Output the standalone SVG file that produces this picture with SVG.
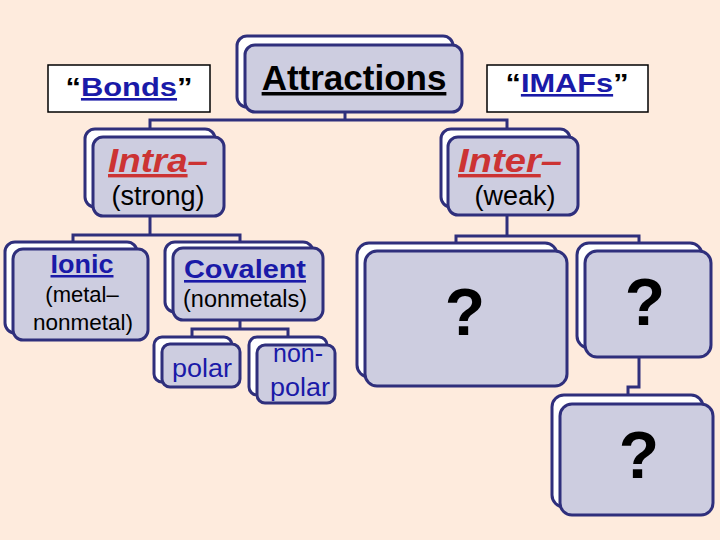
<svg xmlns="http://www.w3.org/2000/svg" width="720" height="540" viewBox="0 0 720 540">
<style>
.bk{fill:#ffffff;stroke:#2f2f7c;stroke-width:3}
.fr{fill:#cdcde0;stroke:#2f2f7c;stroke-width:3}
.lbl{fill:#ffffff;stroke:#000000;stroke-width:1.5}
.cn{fill:none;stroke:#2f2f7c;stroke-width:3}
text{font-family:"Liberation Sans",Arial,sans-serif;text-anchor:middle}
.blue{fill:#1a1aa8}
.red{fill:#cc3333}
.blk{fill:#000000}
</style>
<rect x="0" y="0" width="720" height="540" fill="#feebdd"/>
<g id="connectors">
<polyline class="cn" points="345,112 345,120"/>
<polyline class="cn" points="150,129 150,120 507,120 507,129"/>
<polyline class="cn" points="150,216 150,235"/>
<polyline class="cn" points="73,242 73,235 240,235 240,242"/>
<polyline class="cn" points="240,320 240,329"/>
<polyline class="cn" points="192,337 192,329 288,329 288,337"/>
<polyline class="cn" points="507,215 507,236"/>
<polyline class="cn" points="456,243 456,236 639,236 639,243"/>
<polyline class="cn" points="639,357 639,387 628,387 628,395"/>
</g>
<g id="bonds">
<rect class="lbl" x="48" y="65" width="162" height="47"/>
<text x="129" y="96" font-size="26" font-weight="bold" textLength="127" lengthAdjust="spacingAndGlyphs"><tspan class="blk">“</tspan><tspan class="blue" text-decoration="underline">Bonds</tspan><tspan class="blk">”</tspan></text>
</g>
<g id="imafs">
<rect class="lbl" x="487" y="65" width="161" height="47"/>
<text x="567" y="92" font-size="26" font-weight="bold" textLength="123" lengthAdjust="spacingAndGlyphs"><tspan class="blk">“</tspan><tspan class="blue" text-decoration="underline">IMAFs</tspan><tspan class="blk">”</tspan></text>
</g>
<g id="attractions">
<rect class="bk" x="237" y="36" width="216" height="71" rx="10"/>
<rect class="fr" x="245" y="45" width="217" height="67" rx="10"/>
<text class="blk" x="354" y="90" font-size="35" font-weight="bold" text-decoration="underline">Attractions</text>
</g>
<g id="intra">
<rect class="bk" x="85" y="129" width="130" height="78" rx="10"/>
<rect class="fr" x="93" y="137" width="131" height="79" rx="10"/>
<text x="158" y="172" font-size="34" font-weight="bold" font-style="italic" textLength="100" lengthAdjust="spacingAndGlyphs"><tspan class="red" text-decoration="underline">Intra</tspan><tspan class="red">–</tspan></text>
<text class="blk" x="158" y="205" font-size="27">(strong)</text>
</g>
<g id="inter">
<rect class="bk" x="441" y="129" width="129" height="78" rx="10"/>
<rect class="fr" x="448" y="137" width="130" height="78" rx="10"/>
<text x="510" y="172" font-size="34" font-weight="bold" font-style="italic" textLength="104" lengthAdjust="spacingAndGlyphs"><tspan class="red" text-decoration="underline">Inter</tspan><tspan class="red">–</tspan></text>
<text class="blk" x="515" y="205" font-size="27">(weak)</text>
</g>
<g id="ionic">
<rect class="bk" x="5" y="242" width="132" height="91" rx="10"/>
<rect class="fr" x="13" y="249" width="135" height="91" rx="10"/>
<text class="blue" x="82" y="273" font-size="25" font-weight="bold" text-decoration="underline" textLength="63" lengthAdjust="spacingAndGlyphs">Ionic</text>
<text class="blk" x="82" y="302" font-size="22">(metal–</text>
<text class="blk" x="83" y="330" font-size="22" textLength="100" lengthAdjust="spacingAndGlyphs">nonmetal)</text>
</g>
<g id="covalent">
<rect class="bk" x="165" y="242" width="148" height="70" rx="10"/>
<rect class="fr" x="173" y="248" width="150" height="72" rx="10"/>
<text class="blue" x="245" y="278" font-size="26" font-weight="bold" text-decoration="underline" textLength="122" lengthAdjust="spacingAndGlyphs">Covalent</text>
<text class="blk" x="245" y="307" font-size="23" textLength="124" lengthAdjust="spacingAndGlyphs">(nonmetals)</text>
</g>
<g id="polar">
<rect class="bk" x="154" y="337" width="78" height="45" rx="8"/>
<rect class="fr" x="162" y="344" width="78" height="43" rx="8"/>
<text class="blue" x="202" y="377" font-size="25" textLength="60" lengthAdjust="spacingAndGlyphs">polar</text>
</g>
<g id="nonpolar">
<rect class="bk" x="249" y="337" width="78" height="58" rx="8"/>
<rect class="fr" x="257" y="345" width="78" height="58" rx="8"/>
<text class="blue" x="298" y="362" font-size="25" textLength="50" lengthAdjust="spacingAndGlyphs">non-</text>
<text class="blue" x="300" y="396" font-size="25" textLength="60" lengthAdjust="spacingAndGlyphs">polar</text>
</g>
<g id="q1">
<rect class="bk" x="357" y="243" width="200" height="134" rx="12"/>
<rect class="fr" x="365" y="251" width="202" height="135" rx="12"/>
<text class="blk" x="465" y="335" font-size="66" font-weight="bold">?</text>
</g>
<g id="q2">
<rect class="bk" x="577" y="243" width="125" height="105" rx="12"/>
<rect class="fr" x="585" y="251" width="126" height="106" rx="12"/>
<text class="blk" x="645" y="325" font-size="66" font-weight="bold">?</text>
</g>
<g id="q3">
<rect class="bk" x="552" y="395" width="151" height="112" rx="12"/>
<rect class="fr" x="560" y="404" width="153" height="111" rx="12"/>
<text class="blk" x="639" y="478" font-size="66" font-weight="bold">?</text>
</g>
</svg>
